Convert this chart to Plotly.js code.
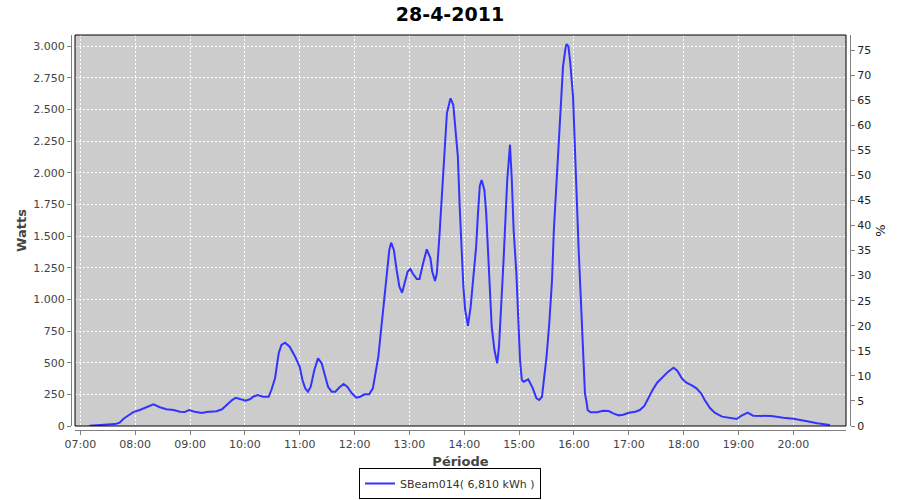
<!DOCTYPE html>
<html>
<head>
<meta charset="utf-8">
<script src="https://cdn.plot.ly/plotly-3.0.1.min.js"></script>
<style>html,body{margin:0;padding:0;background:#fff;}#chart{width:900px;height:500px;}</style>
</head>
<body>
<div id="chart"></div>
<script>
var chartDate = '2011-04-28';
var chartTitle = '28-4-2011';
var seriesName = 'SBeam014( 6,810 kWh )';

var times = ['07:10','07:15','07:20','07:30','07:38','07:43','07:47','07:52','07:58','08:05','08:13','08:20','08:27','08:34','08:42','08:49','08:54','08:59','09:05','09:13','09:18','09:29','09:35','09:40','09:46','09:50','09:55','10:01','10:06','10:09','10:14','10:20','10:26','10:29','10:33','10:37','10:40','10:44','10:49','10:55','11:00','11:03','11:06','11:09','11:12','11:16','11:20','11:24','11:28','11:31','11:35','11:39','11:43','11:48','11:52','11:57','12:02','12:06','12:11','12:16','12:20','12:23','12:26','12:29','12:32','12:35','12:38','12:40','12:43','12:46','12:49','12:52','12:55','12:58','13:01','13:04','13:08','13:11','13:15','13:19','13:23','13:25','13:28','13:30','13:33','13:35','13:37','13:39','13:41','13:44','13:45','13:48','13:50','13:53','13:55','13:57','13:59','14:01','14:03','14:04','14:07','14:10','14:13','14:15','14:17','14:19','14:22','14:24','14:26','14:28','14:30','14:33','14:35','14:36','14:38','14:41','14:43','14:45','14:47','14:49','14:50','14:52','14:54','14:57','14:59','15:01','15:03','15:05','15:10','15:15','15:19','15:22','15:25','15:27','15:30','15:33','15:36','15:38','15:41','15:44','15:46','15:48','15:51','15:52','15:54','15:56','15:59','16:01','16:03','16:05','16:07','16:09','16:10','16:12','16:14','16:15','16:18','16:25','16:32','16:38','16:43','16:49','16:54','17:00','17:07','17:12','17:17','17:21','17:26','17:31','17:38','17:43','17:49','17:53','17:58','18:03','18:09','18:14','18:19','18:23','18:29','18:34','18:42','18:51','18:58','19:03','19:10','19:16','19:36','19:49','20:00','20:15','20:26','20:40'];

var watts = [2,5,10,12,15,26,55,81,110,126,148,171,148,132,126,113,110,126,113,103,110,116,132,166,205,223,213,200,213,231,245,231,231,284,376,574,640,658,626,547,468,363,297,271,310,442,534,495,389,310,271,271,302,332,310,258,223,231,250,250,297,416,547,758,969,1232,1390,1447,1390,1232,1100,1052,1126,1218,1240,1200,1161,1161,1285,1395,1324,1218,1145,1205,1521,1758,1995,2258,2469,2560,2587,2534,2376,2126,1731,1363,1100,916,837,790,942,1153,1416,1679,1895,1942,1863,1679,1363,1048,784,600,521,495,626,995,1311,1626,1942,2126,2221,1942,1547,1205,811,521,363,350,369,297,218,205,231,363,547,811,1153,1547,1942,2284,2600,2837,2995,3016,2995,2864,2600,2258,1810,1416,1074,705,480,258,179,126,108,108,121,118,100,84,89,105,113,126,158,218,284,342,389,429,460,437,376,342,321,297,258,205,140,105,74,63,55,81,105,81,79,66,58,37,21,8];

var xRange = ['2011-04-28 06:54:10', '2011-04-28 20:57:35'];
var wattsRange = [0, 3087];
var pctRange = [0, 78];

var xs = times.map(function(t){ return chartDate + ' ' + t; });

var W = 900, H = 500;
var ml = 71, mr = 50, mt = 35, mb = 70;
var pw = W - ml - mr, ph = H - mt - mb;
var gap = 4;
var dx0 = gap / pw, dx1 = 1 - gap / pw, dy0 = gap / ph;

var font = 'DejaVu Sans, Verdana, sans-serif';
var tickFont = {family: font, size: 11, color: '#444444'};
var axTitleFont = {family: font, size: 13, color: '#444444', weight: 'bold'};

var traces = [
  {
    x: xs, y: watts, type: 'scatter', mode: 'lines', name: seriesName,
    line: {color: '#3333ff', width: 2},
    xaxis: 'x', yaxis: 'y', hoverinfo: 'x+y'
  },
  {
    x: [null], y: [null], type: 'scatter', mode: 'lines', showlegend: false,
    xaxis: 'x', yaxis: 'y2', hoverinfo: 'skip'
  }
];

var layout = {
  width: W, height: H,
  margin: {l: ml, r: mr, t: mt, b: mb, pad: 0, autoexpand: false},
  paper_bgcolor: '#ffffff',
  plot_bgcolor: '#cccccc',
  separators: ',.',
  font: {family: font, size: 11, color: '#444444'},
  title: {
    text: chartTitle, x: 0.5, xanchor: 'center', xref: 'container',
    y: 1 - 14 / H, yanchor: 'middle', yref: 'container',
    font: {family: font, size: 19, color: '#000000', weight: 'bold'}
  },
  xaxis: {
    type: 'date', domain: [dx0, dx1], anchor: 'free', position: 0,
    range: xRange, tickformat: '%H:%M', dtick: 3600000, tick0: chartDate + ' 07:00',
    showgrid: true, gridcolor: '#ffffff', gridwidth: 1, griddash: '2px,2px',
    ticks: 'outside', ticklen: 4, tickcolor: '#808080', tickwidth: 1,
    showline: true, linecolor: '#808080', linewidth: 1, zeroline: false,
    tickfont: tickFont, automargin: false,
    title: {text: 'Période', font: axTitleFont, standoff: 6}
  },
  yaxis: {
    domain: [dy0, 1], anchor: 'free', position: 0,
    range: wattsRange, dtick: 250, tick0: 0, tickformat: ',d',
    showgrid: true, gridcolor: '#ffffff', gridwidth: 1, griddash: '2px,2px',
    ticks: 'outside', ticklen: 4, tickcolor: '#808080', tickwidth: 1,
    showline: true, linecolor: '#808080', linewidth: 1, zeroline: false,
    tickfont: tickFont, automargin: false,
    title: {text: 'Watts', font: axTitleFont, standoff: 2}
  },
  yaxis2: {
    overlaying: 'y', side: 'right', anchor: 'free', position: 1,
    range: pctRange, dtick: 5, tick0: 0,
    showgrid: false, zeroline: false,
    ticks: 'outside', ticklen: 4, tickcolor: '#808080', tickwidth: 1,
    showline: true, linecolor: '#808080', linewidth: 1, automargin: false,
    tickfont: {family: font, size: 11, color: '#222222'},
    title: {text: '%', font: {family: font, size: 13, color: '#222222'}, standoff: 5}
  },
  shapes: [{
    type: 'rect', xref: 'paper', yref: 'paper',
    x0: dx0, x1: dx1, y0: dy0, y1: 1,
    line: {color: '#000000', width: 1}, layer: 'above'
  }],
  showlegend: true,
  legend: {
    orientation: 'h', x: 0.5, xanchor: 'center', yanchor: 'top',
    bordercolor: '#000000', borderwidth: 1, bgcolor: '#ffffff',
    font: {family: font, size: 11, color: '#333333'}, itemwidth: 30
  }
};
layout.legend.x = (450 - ml) / pw;
layout.legend.y = -(468 - (mt + ph)) / ph;

Plotly.newPlot('chart', traces, layout, {displayModeBar: false, staticPlot: true});
</script>
</body>
</html>
